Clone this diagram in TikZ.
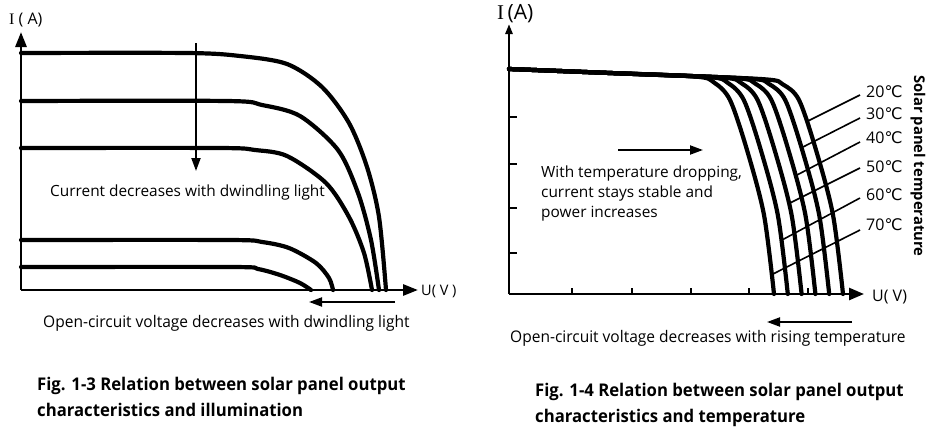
\documentclass[tikz,border=0pt]{standalone}
\usepackage{fontspec}
\setmainfont{Open Sans}
\newfontfamily\condfont[FakeStretch=0.97]{Open Sans}
\newfontfamily\capfont[FakeStretch=0.955]{Open Sans}
\newfontfamily\djv{DejaVu Sans}
\newfontfamily\serf{Liberation Serif}
\usetikzlibrary{arrows.meta}
\tikzset{
  curve/.style={line width=4.2pt, line cap=round, line join=round},
  axis/.style={line width=2.8pt, -{Triangle[length=15pt,width=11pt]}},
  thinarrow/.style={line width=2pt, -{Triangle[length=13pt,width=9pt]}},
  leader/.style={line width=1.6pt},
  tick/.style={line width=2pt},
  lbl/.style={inner sep=0pt, font=\fontsize{15.4}{18}\selectfont},
  temp/.style={inner sep=0pt, anchor=west, font=\fontsize{16}{18}\selectfont},
  bottomtxt/.style={inner sep=0pt, anchor=west, font=\fontsize{16}{18}\condfont},
  captxt/.style={inner sep=0pt, anchor=west, align=left, font=\fontsize{17.5}{26}\capfont\bfseries},
}
\begin{document}
\begin{tikzpicture}[x=1pt,y=-1pt]
\useasboundingbox[fill=white] (0,0) rectangle (936,431);

% ---------------- Left chart ----------------
\coordinate (lo) at (21,290);
\coordinate (ly) at (21,32);
\coordinate (lx) at (418,290);
\draw[axis] (lo) -- (ly);
\draw[axis] (lo) -- (lx);
\node[lbl, anchor=west, font=\fontsize{16}{18}\selectfont] (lyl) at (9,20) {{\serf I} ( A)};
\node[lbl, anchor=west, font=\fontsize{14.5}{16}\selectfont] (lxl) at (421,291) {U( V )};

\draw[curve] plot[smooth, tension=0.5] coordinates {(21,53) (187,53) (240,56) (287,64) (322,87) (349,123) (367,167) (379,217) (386,290)};
\draw[curve] plot[smooth, tension=0.5] coordinates {(21,101) (227,101) (262,105) (300,116) (338,150) (358,193) (371,240) (379,290)};
\draw[curve] plot[smooth, tension=0.5] coordinates {(21,148) (220,148) (255,150) (287,156) (326,183) (349,217) (364,253) (372,290)};
\draw[curve] plot[smooth, tension=0.5] coordinates {(21,240) (230,240) (262,242) (289,248) (316,263) (329,278) (333,290)};
\draw[curve] plot[smooth, tension=0.5] coordinates {(21,267) (233,267) (258,269) (280,275) (300,283) (311,290)};

\coordinate (la1) at (196,43);
\coordinate (la2) at (196,171);
\draw[thinarrow] (la1) -- (la2);
\node[lbl, anchor=west] (ltxt) at (50,192) {Current decreases with dwindling light};

\coordinate (lb1) at (395,302);
\coordinate (lb2) at (309,302);
\draw[thinarrow] (lb1) -- (lb2);
\node[bottomtxt] (lbt) at (43,323) {Open-circuit voltage decreases with dwindling light};

\node[captxt] (lcap) at (37,397) {Fig. 1-3 Relation between solar panel output\\characteristics and illumination};

% ---------------- Right chart ----------------
\coordinate (ro) at (509,294);
\coordinate (ry) at (509,24);
\coordinate (rx) at (864,294);
\draw[line width=2.6pt, -{Triangle[length=10pt,width=7pt]}] (ro) -- (ry);
\draw[line width=2.6pt, -{Triangle[length=15pt,width=12pt]}] (ro) -- (rx);
\node[lbl, anchor=west, font=\fontsize{21}{23}\selectfont] (ryl) at (497,14) {{\serf I}\,(A)};
\node[lbl, anchor=west, font=\fontsize{16}{18}\selectfont] (rxl) at (872,297) {U( V)};

\foreach \y in {117,164,208,253} \draw[tick] (509,\y) -- (517,\y);
\foreach \x in {572,632,691,749,808} \draw[tick] (\x,294) -- (\x,288);

\foreach \k in {0,...,5}{
  \draw[curve] plot[smooth, tension=0.5] coordinates {
    (509,69) ({600+10*\k},{72.6+0.4*\k}) ({695+13.8*\k},{76.5+0.55*\k})
    ({714+13.8*\k},{82.5+0.4*\k}) ({730+13.8*\k},100) ({747+13.8*\k},150)
    ({764+13.8*\k},215) ({774+13.8*\k},294)};
}

\node[temp] (t20) at (866,92) {20{\djv ℃}};
\node[temp] (t30) at (866,114) {30{\djv ℃}};
\node[temp] (t40) at (866,138) {40{\djv ℃}};
\node[temp] (t50) at (866,167) {50{\djv ℃}};
\node[temp] (t60) at (866,195) {60{\djv ℃}};
\node[temp] (t70) at (866,225) {70{\djv ℃}};
\coordinate (s20) at (860,95);  \coordinate (e20) at (808,121);
\coordinate (s30) at (860,118); \coordinate (e30) at (803,147);
\coordinate (s40) at (860,142); \coordinate (e40) at (797,175);
\coordinate (s50) at (860,168); \coordinate (e50) at (790,203);
\coordinate (s60) at (860,198); \coordinate (e60) at (782,240);
\coordinate (s70) at (860,230); \coordinate (e70) at (773,274);
\foreach \t in {20,30,40,50,60,70} \draw[leader] (s\t) -- (e\t);

\node[lbl, rotate=-90, font=\fontsize{14.8}{17}\selectfont\bfseries] (spt) at (918,166) {Solar panel temperature};

\coordinate (ra1) at (618,150);
\coordinate (ra2) at (703,150);
\draw[thinarrow] (ra1) -- (ra2);
\node[lbl, anchor=north west, align=left, font=\fontsize{15.4}{20}\selectfont] (rtxt) at (541,166) {With temperature dropping,\\current stays stable and\\power increases};

\coordinate (rb1) at (852,322);
\coordinate (rb2) at (767,322);
\draw[thinarrow] (rb1) -- (rb2);
\node[bottomtxt] (rbt) at (510,338) {Open-circuit voltage decreases with rising temperature};

\node[captxt] (rcap) at (535,405) {Fig. 1-4 Relation between solar panel output\\characteristics and temperature};
\end{tikzpicture}
\end{document}
